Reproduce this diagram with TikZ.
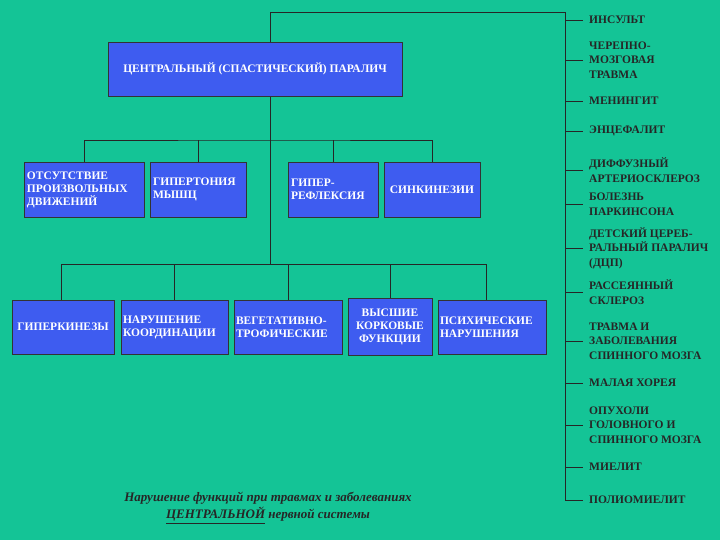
\documentclass[tikz,border=0pt]{standalone}
\usepackage{fontspec}
\setmainfont{Liberation Serif}
\usetikzlibrary{backgrounds}
\begin{document}
\begin{tikzpicture}[x=1pt,y=-1pt,
  bx/.style={draw=black!80,line width=0.8pt,fill=boxblue,text=white,font=\bfseries\fontsize{11.5}{13}\selectfont,align=left,inner sep=2pt},
  ln/.style={black!85,line width=0.8pt},
  lb/.style={anchor=west,font=\bfseries\fontsize{11.5}{14.5}\selectfont,align=left,text=black!85,inner sep=0pt}]
\definecolor{bg}{RGB}{20,196,150}
\definecolor{boxblue}{RGB}{62,92,240}
\useasboundingbox (0,0) rectangle (720,540);
% central
\node[bx,minimum width=294pt,minimum height=54pt,align=center] (c) at (255,69) {ЦЕНТРАЛЬНЫЙ (СПАСТИЧЕСКИЙ) ПАРАЛИЧ};
% top row
\node[bx,minimum width=120pt,minimum height=55pt,text width=114pt] (a1) at (84,189.5) {ОТСУТСТВИЕ\\ПРОИЗВОЛЬНЫХ\\ДВИЖЕНИЙ};
\node[bx,minimum width=96pt,minimum height=55pt,text width=90pt] (a2) at (198,189.5) {ГИПЕРТОНИЯ\\МЫШЦ};
\node[bx,minimum width=90pt,minimum height=55pt,text width=84pt] (a3) at (333,189.5) {ГИПЕР-\\РЕФЛЕКСИЯ};
\node[bx,minimum width=96pt,minimum height=55pt,align=center] (a4) at (432,189.5) {СИНКИНЕЗИИ};
% bottom row
\node[bx,minimum width=102pt,minimum height=54pt,inner sep=1pt] (b1) at (63,327) {ГИПЕРКИНЕЗЫ};
\node[bx,minimum width=107pt,minimum height=54pt,text width=103pt] (b2) at (174.5,327) {НАРУШЕНИЕ\\КООРДИНАЦИИ};
\node[bx,minimum width=108pt,minimum height=54pt,text width=104pt] (b3) at (288,327) {ВЕГЕТАТИВНО-\\ТРОФИЧЕСКИЕ};
\node[bx,minimum width=84pt,minimum height=57pt,align=center] (b4) at (390,326.5) {ВЫСШИЕ\\КОРКОВЫЕ\\ФУНКЦИИ};
\node[bx,minimum width=108pt,minimum height=54pt,text width=104pt] (b5) at (492,327) {ПСИХИЧЕСКИЕ\\НАРУШЕНИЯ};
% trunk
\coordinate (t0) at (270,12);
\coordinate (tr) at (565,12);
\coordinate (tb) at (565,500);
\coordinate (m1) at (270,140);
\coordinate (m2) at (270,264);
\begin{pgfonlayer}{background}
\fill[bg] (0,0) rectangle (720,540);
\draw[ln] (t0) -- (tr) -- (tb);
\draw[ln] (t0) -- (m2);
\draw[ln] (a1.north) |- (m1) -| (a4.north);
\draw[ln] (a2.north) -- (a2.north |- m1);
\draw[ln] (a3.north) -- (a3.north |- m1);
\draw[ln] (b1.north -| 61,0) |- (m2);
\draw[ln] (m2) -| (b5.north -| 486,0);
\draw[ln] (b2.north) -- (b2.north |- m2);
\draw[ln] (b3.north) -- (b3.north |- m2);
\draw[ln] (b4.north) -- (b4.north |- m2);
\end{pgfonlayer}
% right list
\foreach \y/\t [count=\i] in {20/ИНСУЛЬТ,
 60/{ЧЕРЕПНО-\\МОЗГОВАЯ\\ТРАВМА},
 101/МЕНИНГИТ,
 131/ЭНЦЕФАЛИТ,
 170/{ДИФФУЗНЫЙ\\АРТЕРИОСКЛЕРОЗ},
 204/{БОЛЕЗНЬ\\ПАРКИНСОНА},
 248/{ДЕТСКИЙ ЦЕРЕБ-\\РАЛЬНЫЙ ПАРАЛИЧ\\(ДЦП)},
 292/{РАССЕЯННЫЙ\\СКЛЕРОЗ},
 341/{ТРАВМА И\\ЗАБОЛЕВАНИЯ\\СПИННОГО МОЗГА},
 383/МАЛАЯ ХОРЕЯ,
 425/{ОПУХОЛИ\\ГОЛОВНОГО И\\СПИННОГО МОЗГА},
 467/МИЕЛИТ,
 500/ПОЛИОМИЕЛИТ}{
  \node[lb] (r\i) at (589,\y) {\t};
  \draw[ln] (565,\y) -- (r\i.west -| 583,0);
}
\node[font=\bfseries\itshape\fontsize{13}{17}\selectfont,align=center,text=black!85] (cap) at (268,508) {Нарушение функций при травмах и заболеваниях\\\underline{ЦЕНТРАЛЬНОЙ} нервной системы};
\end{tikzpicture}
\end{document}
